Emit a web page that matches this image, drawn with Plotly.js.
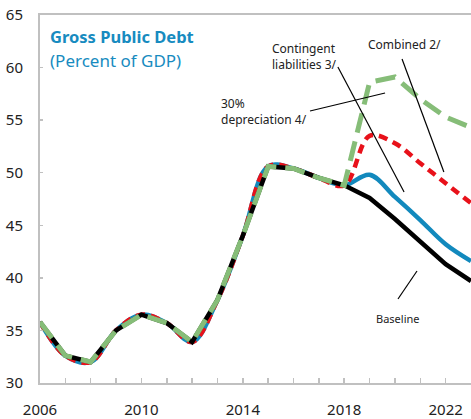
<!DOCTYPE html>
<html>
<head>
<meta charset="utf-8">
<script src="https://cdn.plot.ly/plotly-3.0.1.min.js"></script>
<style>html,body{margin:0;padding:0;background:#fff;}#chart{width:471px;height:419px;}</style>
</head>
<body>
<div id="chart"></div>
<script>
// ---- data ----
const years = [2006,2007,2008,2009,2010,2011,2012,2013,2014,2015,2016,2017,2018,2019,2020,2021,2022,2023];
const baseline     = [35.8,32.6,32.0,35.0,36.5,35.7,33.9,37.9,44.0,50.6,50.4,49.5,48.8,47.6,45.6,43.4,41.3,39.7];
const contingent   = [35.8,32.6,32.0,35.0,36.5,35.7,33.9,37.9,44.0,50.6,50.4,49.5,48.8,49.8,47.7,45.5,43.2,41.6];
const combined     = [35.8,32.6,32.0,35.0,36.5,35.7,33.9,37.9,44.0,50.6,50.4,49.5,48.8,53.5,52.8,50.9,49.0,47.1];
const depreciation = [35.8,32.6,32.0,35.0,36.5,35.7,33.9,37.9,44.0,50.6,50.4,49.5,48.8,58.6,59.1,57.0,55.3,54.3];
const xTickVals = [2006,2007,2008,2009,2010,2011,2012,2013,2014,2015,2016,2017,2018,2019,2020,2021,2022,2023];
const xTickText = ['2006','','','','2010','','','','2014','','','','2018','','','','2022',''];
const yTickVals = [30,35,40,45,50,55,60,65];

const blue = '#1289bd', red = '#e8111a', green = '#86bd78', titleBlue = '#178bc0';
const font = 'Noto Sans, Open Sans, sans-serif';

const traces = [
  {x: years, y: contingent, mode: 'lines', line: {color: blue, width: 4.5, shape: 'spline'}},
  {x: years, y: combined, mode: 'lines', line: {color: red, width: 4.5, shape: 'spline', dash: '9px,6px'}},
  {x: years, y: baseline, mode: 'lines', line: {color: '#000', width: 4.5}},
  {x: years, y: depreciation, mode: 'lines', line: {color: green, width: 5, dash: '20px,9px'}}
];

const ann = (x, y, text, opts) => Object.assign({x, y, xref: 'x', yref: 'y', text, showarrow: false,
  xanchor: 'left', yanchor: 'middle', align: 'left', font: {family: font, size: 12, color: '#222'}}, opts || {});

const seg = (x0, y0, x1, y1) => ({type: 'line', xref: 'x', yref: 'y', x0, y0, x1, y1, line: {color: '#000', width: 1.2}});

const layout = {
  width: 471, height: 419,
  margin: {l: 40, r: 0, t: 15, b: 36},
  paper_bgcolor: '#fff', plot_bgcolor: '#fff',
  showlegend: false,
  font: {family: font, color: '#333'},
  xaxis: {range: [2006, 2023], tickvals: xTickVals, ticktext: xTickText, ticks: 'inside', ticklen: 5,
    tickcolor: '#c0c0c0', tickwidth: 1.5, showline: true, linecolor: '#c0c0c0', linewidth: 2, mirror: true,
    showgrid: false, zeroline: false, tickfont: {size: 15, color: '#222'}, ticklabelstandoff: 12, fixedrange: true},
  yaxis: {range: [30, 65], tickvals: yTickVals, ticks: 'inside', ticklen: 3, tickcolor: '#c0c0c0', tickwidth: 1.5,
    showline: true, linecolor: '#c0c0c0', linewidth: 2, showgrid: false, zeroline: false,
    tickfont: {size: 15, color: '#222'}, ticklabelstandoff: 12, fixedrange: true},
  annotations: [
    ann(2006.3, 62.91, '<b>Gross Public Debt</b>', {font: {family: font, size: 16.5, color: titleBlue}}),
    ann(2006.3, 60.72, '(Percent of GDP)', {font: {family: font, size: 17, color: titleBlue}}),
    ann(2015.07, 61.03, 'Contingent<br>liabilities 3/'),
    ann(2018.86, 62.24, 'Combined 2/'),
    ann(2013.07, 55.8, '30%<br>depreciation 4/'),
    ann(2020.10, 36.09, 'Baseline', {xanchor: 'center', font: {family: font, size: 11, color: '#222'}})
  ],
  shapes: [
    seg(2017.75, 60.05, 2020.36, 48.17),
    seg(2020.28, 60.81, 2021.93, 50.07),
    seg(2016.65, 55.87, 2019.61, 57.58),
    seg(2020.12, 37.99, 2020.87, 40.65)
  ]
};

Plotly.newPlot('chart', traces, layout, {displayModeBar: false, staticPlot: true});
</script>
</body>
</html>
